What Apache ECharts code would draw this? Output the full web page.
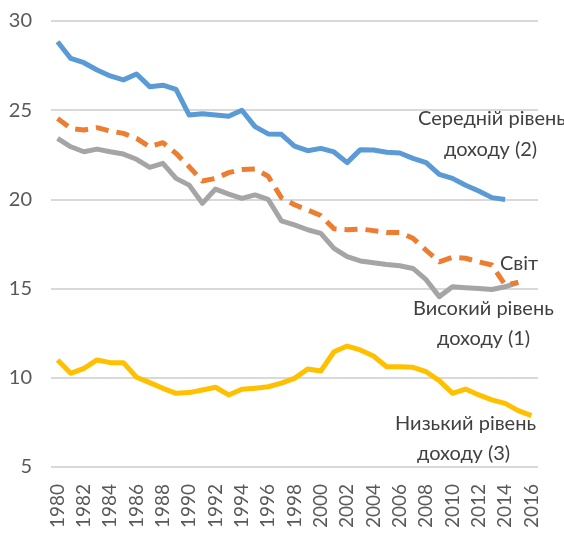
<!DOCTYPE html>
<html>
<head>
<meta charset="utf-8">
<script src="https://cdn.jsdelivr.net/npm/echarts@6/dist/echarts.min.js"></script>
<style>html,body{margin:0;padding:0;background:#fff}#c{width:564px;height:533px}</style>
</head>
<body>
<div id="c"></div>
<script>
var years = [];
for (var y = 1980; y <= 2016; y++) years.push(String(y));

var middleIncome = [28.84, 27.9, 27.66, 27.25, 26.92, 26.7, 27.03, 26.32, 26.4, 26.17,
  24.73, 24.8, 24.73, 24.66, 25.0, 24.08, 23.67, 23.65, 22.99, 22.73,
  22.86, 22.66, 22.06, 22.79, 22.77, 22.64, 22.6, 22.3, 22.06, 21.4,
  21.18, 20.79, 20.47, 20.1, 20.0, null, null];

var world = [24.54, 23.98, 23.89, 24.02, 23.83, 23.7, 23.42, 22.95, 23.18, 22.58,
  21.83, 21.03, 21.18, 21.5, 21.67, 21.7, 21.3, 20.1, 19.7, 19.4,
  19.1, 18.35, 18.3, 18.34, 18.25, 18.15, 18.14, 17.82, 17.15, 16.5,
  16.76, 16.7, 16.5, 16.32, 15.2, 15.35, null];

var highIncome = [23.42, 22.95, 22.67, 22.82, 22.67, 22.54, 22.25, 21.8, 22.02, 21.18,
  20.8, 19.78, 20.58, 20.3, 20.06, 20.25, 20.0, 18.8, 18.57, 18.3,
  18.1, 17.26, 16.79, 16.55, 16.45, 16.35, 16.28, 16.13, 15.5, 14.55,
  15.1, 15.05, 15.0, 14.95, 15.1, 15.35, null];

var lowIncome = [11.0, 10.25, 10.53, 11.0, 10.85, 10.85, 10.03, 9.73, 9.41, 9.13,
  9.17, 9.32, 9.47, 9.04, 9.36, 9.41, 9.5, 9.7, 9.97, 10.49,
  10.38, 11.46, 11.78, 11.56, 11.22, 10.62, 10.62, 10.59, 10.34, 9.84,
  9.13, 9.37, 9.04, 8.76, 8.57, 8.16, 7.88];

var yTicks = { min: 5, max: 30, interval: 5 };

var FONT = 'Lato, "Open Sans", sans-serif';
var TXT = '#404040';

function lineSeries(name, data, color, dashed) {
  return {
    name: name, type: 'line', data: data, symbol: 'none', smooth: false,
    connectNulls: false,
    lineStyle: { color: color, width: 5, type: dashed ? [13, 8] : 'solid', cap: 'butt', join: 'round' },
    itemStyle: { color: color }
  };
}

var chart = echarts.init(document.getElementById('c'), null, { renderer: 'canvas' });
chart.setOption({
  animation: false,
  backgroundColor: '#ffffff',
  grid: { left: 51, right: 26, top: 21, bottom: 66, containLabel: false },
  xAxis: {
    type: 'category', data: years, boundaryGap: true,
    axisLine: { show: false }, axisTick: { show: false },
    axisLabel: { interval: 1, rotate: 90, margin: 17, color: '#595959', fontSize: 19, fontFamily: FONT }
  },
  yAxis: {
    type: 'value', min: yTicks.min, max: yTicks.max, interval: yTicks.interval,
    axisLine: { show: false }, axisTick: { show: false },
    axisLabel: { margin: 19, color: '#595959', fontSize: 20, fontFamily: FONT },
    splitLine: { lineStyle: { color: '#D9D9D9', width: 2 } }
  },
  series: [
    lineSeries('Високий рівень доходу (1)', highIncome, '#A5A5A5', false),
    lineSeries('Середній рівень доходу (2)', middleIncome, '#5B9BD5', false),
    lineSeries('Низький рівень доходу (3)', lowIncome, '#FFC000', false),
    lineSeries('Світ', world, '#ED7D31', true)
  ],
  graphic: [
    { type: 'text', left: 418, top: 109, style: { text: 'Середній рівень', fill: TXT, font: '20px ' + FONT } },
    { type: 'text', left: 444, top: 140, style: { text: 'доходу (2)', fill: TXT, font: '20px ' + FONT } },
    { type: 'text', left: 500, top: 254, style: { text: 'Світ', fill: TXT, font: '20px ' + FONT } },
    { type: 'text', left: 413, top: 299, style: { text: 'Високий рівень', fill: TXT, font: '20px ' + FONT } },
    { type: 'text', left: 437, top: 329, style: { text: 'доходу (1)', fill: TXT, font: '20px ' + FONT } },
    { type: 'text', left: 395, top: 414, style: { text: 'Низький рівень', fill: TXT, font: '20px ' + FONT } },
    { type: 'text', left: 417, top: 444, style: { text: 'доходу (3)', fill: TXT, font: '20px ' + FONT } }
  ]
});
</script>
</body>
</html>
